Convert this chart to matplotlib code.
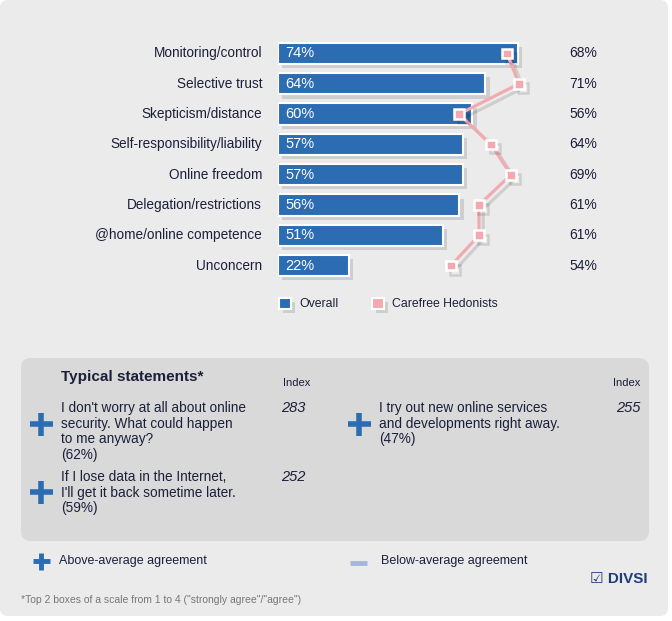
import matplotlib
matplotlib.use("Agg")
from matplotlib import pyplot as plt
from matplotlib.patches import FancyBboxPatch, Patch
import matplotlib.patheffects as pe

# Data
categories = ["Monitoring/control", "Selective trust", "Skepticism/distance",
			  "Self-responsibility/liability", "Online freedom", "Delegation/restrictions",
			  "@home/online competence", "Unconcern"]
overall = [74, 64, 60, 57, 57, 56, 51, 22]
hedonists = [68, 71, 56, 64, 69, 61, 61, 54]
series_names = ["Overall", "Carefree Hedonists"]

statements = [
	"I don't worry at all about online\nsecurity. What could happen\nto me anyway?\n(62%)",
	"If I lose data in the Internet,\nI'll get it back sometime later.\n(59%)",
	"I try out new online services\nand developments right away.\n(47%)",
]
statement_index = ["283", "252", "255"]

# Styles
W, H = 672, 621
BLUE = "#2b6cb2"
PINK = "#f4a9b0"
TEXT = "#1c1f3a"
FONT = ["Liberation Sans", "DejaVu Sans"]
NARROW = ["Liberation Sans Narrow", "Liberation Sans", "DejaVu Sans"]
plt.rcParams["font.family"] = FONT

fig = plt.figure(figsize = (W / 100, H / 100), dpi = 100, facecolor = "white")

# Background canvas in pixel coordinates
bg = fig.add_axes([0, 0, 1, 1])
bg.set_xlim(0, W)
bg.set_ylim(H, 0)
bg.axis("off")
bg.add_patch(FancyBboxPatch((0, 0), 668, 616, boxstyle = "round,pad=0,rounding_size=8",
							facecolor = "#ebebeb", edgecolor = "none"))
bg.add_patch(FancyBboxPatch((21, 358), 628, 183, boxstyle = "round,pad=0,rounding_size=10",
							facecolor = "#d9d9d9", edgecolor = "none"))

# Bar chart axes: 0% at x=278px, 3.24 px per %
row = 30.3
top = 53.5 - row / 2
ax = fig.add_axes([278 / W, 1 - (top + 8 * row) / H, 324 / W, 8 * row / H])
ax.set_xlim(0, 100)
ax.set_ylim(7.5, -0.5)
ax.axis("off")
shadow = [pe.SimplePatchShadow(offset = (3, -3), shadow_rgbFace = "k", alpha = 0.12), pe.Normal()]
ypos = list(range(len(categories)))
bars = ax.barh(ypos, overall, height = 0.7, color = BLUE, edgecolor = "white", linewidth = 1.5)
for bar in bars:
	bar.set_path_effects(shadow)
for y, v, name in zip(ypos, overall, categories):
	ax.text(2.2, y, f"{v}%", color = "white", fontsize = 10.5, va = "center", ha = "left")
	ax.text(-4.9, y, name, color = TEXT, fontsize = 9.8, va = "center", ha = "right")

# Hedonist line on its own scale: 235px + 4 px per %
ax2 = ax.twiny()
ax2.set_xlim((278 - 235) / 4, (602 - 235) / 4)
ax2.set_ylim(7.5, -0.5)
ax2.axis("off")
ax2.plot(hedonists, ypos, color = PINK, linewidth = 2.3, marker = "s", markersize = 7,
		 markerfacecolor = PINK, markeredgecolor = "white", markeredgewidth = 1.8,
		 path_effects = [pe.SimpleLineShadow(offset = (3, -3), shadow_color = "k", alpha = 0.12), pe.Normal()])

# Right hand percentages
for y, v in zip(ypos, hedonists):
	ax.text((569 - 278) / 3.24, y, f"{v}%", color = TEXT, fontsize = 10, va = "center", ha = "left")

# Legend
handles = [Patch(facecolor = BLUE, edgecolor = "white", linewidth = 1.5),
		   Patch(facecolor = PINK, edgecolor = "white", linewidth = 1.5)]
leg = fig.legend(handles, series_names, loc = "center left", bbox_to_anchor = (268 / W, 1 - 304 / H),
				 ncol = 2, frameon = False, fontsize = 8.8, handlelength = 1.0, handleheight = 1.0,
				 handletextpad = 0.65, columnspacing = 2.75, labelcolor = TEXT)
for h in leg.legend_handles:
	h.set_path_effects(shadow)

# Typical statements box
bg.text(61, 377, "Typical statements*", fontsize = 11, fontweight = "bold", color = TEXT,
		va = "center", ha = "left", family = NARROW)
bg.text(297, 383, "Index", fontsize = 8, color = TEXT, va = "center", ha = "center", family = NARROW)
bg.text(627, 383, "Index", fontsize = 8, color = TEXT, va = "center", ha = "center", family = NARROW)

def plus(x, y, size, width):
	bg.plot([x - size / 2, x + size / 2], [y, y], color = BLUE, linewidth = width, solid_capstyle = "butt")
	bg.plot([x, x], [y - size / 2, y + size / 2], color = BLUE, linewidth = width, solid_capstyle = "butt")

positions = [(61, 401, 424, 293), (61, 470, 492, 293), (379, 401, 424, 628)]
for text, idx, (tx, ty, py, ix) in zip(statements, statement_index, positions):
	plus(tx - 20, py, 23, 4)
	bg.text(tx, ty, text, fontsize = 9.8, color = TEXT, va = "top", ha = "left",
			linespacing = 1.15, family = NARROW)
	bg.text(ix, ty + 7, idx, fontsize = 10.5, color = TEXT, va = "center", ha = "center",
			style = "italic", family = NARROW)

# Agreement legend
plus(41, 561, 17, 3.5)
bg.text(59, 561, "Above-average agreement", fontsize = 9, color = TEXT, va = "center", ha = "left", family = NARROW)
bg.plot([350, 367], [563, 563], color = "#a3b6dd", linewidth = 3.5, solid_capstyle = "butt")
bg.text(381, 561, "Below-average agreement", fontsize = 9, color = TEXT, va = "center", ha = "left", family = NARROW)

# Logo and footnote
bg.text(648, 579, "☑ DIVSI", fontsize = 11, fontweight = "bold", color = "#1f3d7a",
		va = "center", ha = "right", family = ["Liberation Sans", "DejaVu Sans"])
bg.text(21, 600, "*Top 2 boxes of a scale from 1 to 4 (\"strongly agree\"/\"agree\")", fontsize = 7.5,
		color = "#777777", va = "center", ha = "left", family = NARROW)

fig.savefig("out.png", dpi = 100, facecolor = fig.get_facecolor())
